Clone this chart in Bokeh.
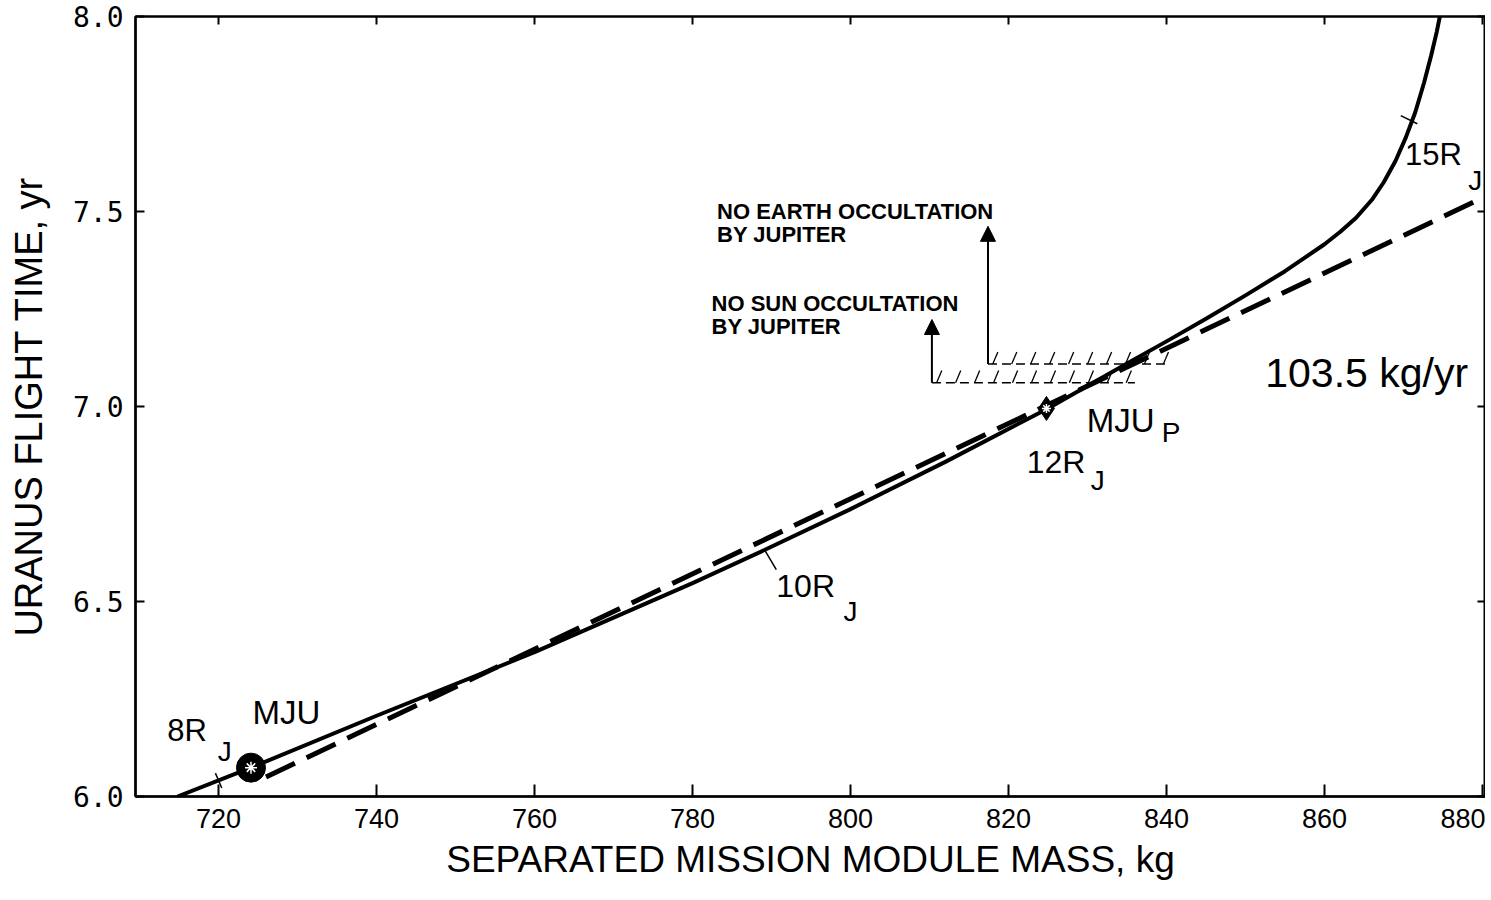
import numpy as np
from bokeh.plotting import figure
from bokeh.models import (Range1d, LinearAxis, FixedTicker, Arrow, NormalHead, Label,
                          PrintfTickFormatter, CustomJSTickFormatter)
from bokeh.embed import file_html
from bokeh.resources import INLINE

# ---------------- data ----------------
x_ticks = [720, 740, 760, 780, 800, 820, 840, 860, 880]
y_ticks = [6.0, 6.5, 7.0, 7.5, 8.0]
x_title = "SEPARATED MISSION MODULE MASS, kg"
y_title = "URANUS FLIGHT TIME, yr"

# solid curve: flight time vs separated mission module mass
solid_mass = [714.8, 724.1, 740.0, 760.0, 780.0, 789.1, 800.0, 812.0, 824.8, 835.0,
              840.0, 845.0, 850.0, 855.0, 860.0, 862.0, 864.0, 866.0, 867.5, 869.0,
              870.3, 871.5, 872.6, 873.5, 874.2, 874.6]
solid_time = [6.000, 6.074, 6.207, 6.370, 6.547, 6.632, 6.737, 6.858, 6.993, 7.110,
              7.167, 7.225, 7.285, 7.347, 7.416, 7.448, 7.484, 7.530, 7.575, 7.630,
              7.690, 7.755, 7.830, 7.900, 7.960, 8.000]

# dashed line: 103.5 kg/yr
dashed_mass = [726.0, 880.0]
dashed_time = [6.05, 7.535]

# design points
mju_mass, mju_time = [724.1], [6.074]
mjup_mass, mjup_time = [824.8], [6.995]

# radius marks on the curve (Jupiter radii)
rj_labels = ["8R", "10R", "12R", "15R"]
rj_tick_mass = [[719.6, 720.4], [789.1, 790.6], [], [869.65, 871.75]]
rj_tick_time = [[6.060, 6.022], [6.633, 6.582], [], [7.746, 7.725]]

# occultation constraint boundaries
sun_bound_mass = [810.3, 836.0]
sun_bound_time = 7.061
sun_arrow_tip = 7.223
earth_bound_mass = [817.4, 840.2]
earth_bound_time = 7.109
earth_arrow_tip = 7.462

# ---------------- figure ----------------
ANN_FONT = "Liberation Sans"
X0, X1 = 709.48, 880.38

p = figure(width=1485, height=892,
           x_range=Range1d(X0, X1), y_range=Range1d(6.0, 8.0),
           output_backend="svg", toolbar_location=None,
           min_border_left=135, min_border_right=0, min_border_top=16, min_border_bottom=96)
p.grid.visible = False
p.outline_line_color = "black"
p.outline_line_width = 2
p.background_fill_color = "white"

# bottom axis
xa = p.xaxis[0]
xa.ticker = FixedTicker(ticks=x_ticks)
xa.major_tick_in = 12
xa.major_tick_out = 0
xa.minor_tick_in = 0
xa.minor_tick_out = 0
xa.axis_line_width = 2.5
xa.major_tick_line_width = 2
xa.major_label_text_font = ANN_FONT
xa.major_label_text_font_size = "27px"
xa.major_label_text_color = "black"
xa.major_label_standoff = 12
xa.axis_label = x_title
xa.axis_label_text_font = ANN_FONT
xa.axis_label_text_font_size = "37px"
xa.axis_label_text_font_style = "normal"
xa.axis_label_text_color = "black"
xa.axis_label_standoff = 8

# left axis
ya = p.yaxis[0]
ya.ticker = FixedTicker(ticks=y_ticks)
ya.formatter = PrintfTickFormatter(format="%.1f")
ya.major_tick_in = 9
ya.major_tick_out = 0
ya.minor_tick_in = 0
ya.minor_tick_out = 0
ya.axis_line_width = 2.5
ya.major_tick_line_width = 2
ya.major_label_text_font = "DejaVu Sans Mono"
ya.major_label_text_font_size = "28px"
ya.major_label_text_color = "black"
ya.major_label_standoff = 12
ya.axis_label = y_title
ya.axis_label_text_font = ANN_FONT
ya.axis_label_text_font_size = "38px"
ya.axis_label_text_font_style = "normal"
ya.axis_label_text_color = "black"
ya.axis_label_standoff = 20

blank = CustomJSTickFormatter(code="return ''")
ra = LinearAxis(ticker=FixedTicker(ticks=y_ticks), formatter=blank,
                major_tick_in=8, major_tick_out=0, minor_tick_in=0, minor_tick_out=0,
                major_label_standoff=0, axis_line_width=2, major_tick_line_width=2,
                major_label_text_font_size="0px")
p.add_layout(ra, "right")
ta = LinearAxis(ticker=FixedTicker(ticks=x_ticks), formatter=blank,
                major_tick_in=8, major_tick_out=0, minor_tick_in=0, minor_tick_out=0,
                major_label_standoff=0, axis_line_width=2, major_tick_line_width=2,
                major_label_text_font_size="0px")
p.add_layout(ta, "above")

# curves
p.line(dashed_mass, dashed_time, line_color="black", line_width=5, line_dash="32 13")
p.line(solid_mass, solid_time, line_color="black", line_width=4, line_join="round")

# radius tick marks
for xs, ys in zip(rj_tick_mass, rj_tick_time):
    if xs:
        p.line(xs, ys, line_color="black", line_width=1.5)

# design points
p.scatter(mju_mass, mju_time, marker="circle", size=29, fill_color="black", line_color="black")
p.scatter(mju_mass, mju_time, marker="asterisk", size=12, line_color="white", line_width=1.5)
p.scatter(mjup_mass, mjup_time, marker="diamond", size=24, fill_color="black", line_color="black")
p.scatter(mjup_mass, mjup_time, marker="asterisk", size=9, line_color="white", line_width=1.5)

# occultation boundaries
for bm, bt, tip in [(sun_bound_mass, sun_bound_time, sun_arrow_tip),
                    (earth_bound_mass, earth_bound_time, earth_arrow_tip)]:
    p.line(bm, [bt, bt], line_color="black", line_width=1.5, line_dash="9 5")
    hx = np.arange(bm[0] + 0.6, bm[1] - 0.3, 2.4)
    p.multi_line([[h, h + 0.65] for h in hx], [[bt, bt + 0.031] for _ in hx],
                 line_color="black", line_width=1.3)
    p.add_layout(Arrow(end=NormalHead(size=15, fill_color="black", line_color="black"),
                       x_start=bm[0], y_start=bt, x_end=bm[0], y_end=tip,
                       line_color="black", line_width=2))

# labels
def lab(x, y, text, size, font=ANN_FONT, style="normal"):
    p.add_layout(Label(x=x, y=y, text=text, text_font=font, text_font_size=size,
                       text_font_style=style, text_color="black",
                       text_align="left", text_baseline="top"))

lab(783.1, 7.531, "NO EARTH OCCULTATION", "22px", "Liberation Sans", "bold")
lab(783.1, 7.472, "BY JUPITER", "22px", "Liberation Sans", "bold")
lab(782.4, 7.297, "NO SUN OCCULTATION", "22px", "Liberation Sans", "bold")
lab(782.4, 7.236, "BY JUPITER", "22px", "Liberation Sans", "bold")

lab(713.5, 6.215, rj_labels[0], "31px")
lab(719.9, 6.154, "J", "28px")
lab(724.3, 6.262, "MJU", "33px")

lab(790.6, 6.585, rj_labels[1], "32px")
lab(799.1, 6.515, "J", "28px")

lab(829.9, 7.012, "MJU", "33px")
lab(839.4, 6.972, "P", "28px")
lab(822.3, 6.903, rj_labels[2], "32px")
lab(830.4, 6.850, "J", "28px")

lab(870.2, 7.692, rj_labels[3], "31px")
lab(878.2, 7.620, "J", "28px")

lab(852.5, 7.145, "103.5 kg/yr", "41px")

open("out.html", "w").write(file_html(p, INLINE))
